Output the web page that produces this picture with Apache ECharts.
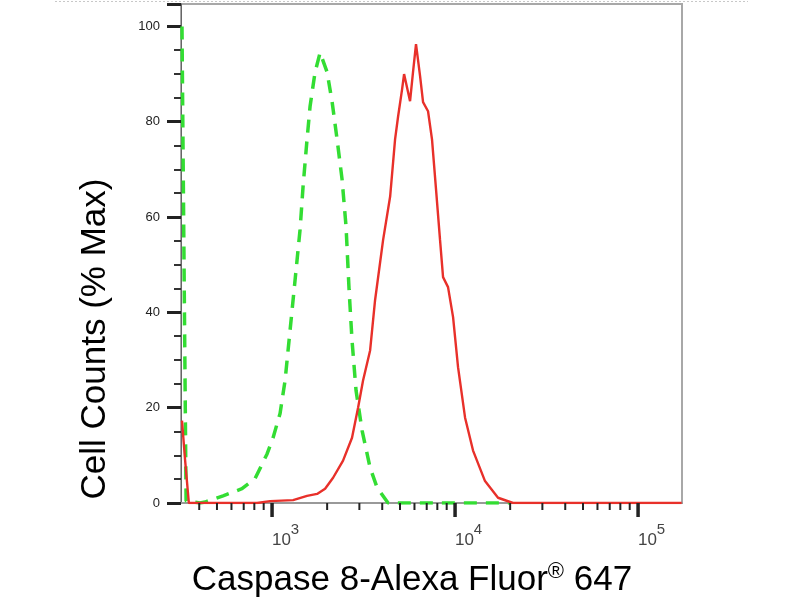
<!DOCTYPE html>
<html>
<head>
<meta charset="utf-8">
<script src="https://cdn.jsdelivr.net/npm/echarts@6/dist/echarts.min.js"></script>
<style>html,body{margin:0;padding:0;background:#fff}#c{width:800px;height:600px}</style>
</head>
<body>
<div id="c"></div>
<script>
// ---- data (fluorescence intensity, % of max) ----
var redX = [322, 335, 351, 404, 589, 828, 975, 1303, 1553, 1762, 1949, 2155, 2443, 2735, 2951, 3142, 3434, 3656, 4044, 4418, 4701, 4883, 5134, 5265, 5676, 5892, 6118, 6437, 6685, 7118, 7482, 7870, 8277, 8598, 9154, 9753, 10382, 11342, 12540, 14576, 17172, 20738, 60000, 173000];
var redY = [17.3, 8.9, 0, 0, 0, 0, 0.4, 0.6, 1.5, 1.9, 3.0, 5.3, 8.9, 13.7, 20.0, 25.7, 32.0, 42.6, 55.2, 64.3, 76.3, 81.1, 86.8, 90.0, 84.3, 90.4, 96.3, 89.6, 84.1, 82.2, 76.3, 65.8, 55.2, 47.4, 45.3, 39.0, 28.5, 17.9, 11.0, 4.6, 1.1, 0, 0, 0];
var greenX = [322, 339, 404, 430, 540, 685, 807, 939, 1013, 1106, 1178, 1254, 1336, 1422, 1477, 1553, 1613, 1718, 1830, 1875, 1999, 2130, 2266, 2413, 2537, 2636, 2735, 2877, 3105, 3434, 3751, 4305, 20000];
var greenY = [100, 0.4, 0, 0.2, 1.5, 3.0, 5.1, 10.3, 13.7, 18.8, 25.7, 36.2, 46.8, 57.3, 66.4, 76.3, 83.2, 90.4, 94.5, 94.5, 90.4, 84.1, 76.3, 67.9, 58.0, 44.7, 34.1, 23.6, 15.2, 7.4, 3.2, 0, 0];
var majorTicks = [1000, 10000, 100000];
var minorTicks = [400, 500, 600, 700, 800, 900, 2000, 3000, 4000, 5000, 6000, 7000, 8000, 9000, 20000, 30000, 40000, 50000, 60000, 70000, 80000, 90000];
var yTicks = [0, 20, 40, 60, 80, 100];
var yTitle = 'Cell Counts (% Max)';
var xTitleMain = 'Caspase 8-Alexa Fluor';
var xTitleSup = '\u00AE';
var xTitleEnd = ' 647';

function zip(a, b) { return a.map(function (v, i) { return [v, b[i]]; }); }
var tickData = majorTicks.map(function (v) { return [v, 1]; })
  .concat(minorTicks.map(function (v) { return [v, 0]; }));

var FONT = 'Liberation Sans, Arial, Helvetica, sans-serif';
var chart = echarts.init(document.getElementById('c'));
chart.setOption({
  animation: false,
  backgroundColor: '#fff',
  grid: { left: 181, right: 118, top: 4, bottom: 97, show: true, borderColor: '#a8a8a8', borderWidth: 2, backgroundColor: 'transparent' },
  xAxis: {
    type: 'log', logBase: 10, min: 318, max: 173800,
    axisLine: { show: true, lineStyle: { color: '#999', width: 2 } },
    axisTick: { show: false },
    splitLine: { show: false },
    axisLabel: {
      showMinLabel: false, showMaxLabel: false,
      margin: 27,
      padding: [0, 0, 0, 27],
      formatter: function (v) {
        var e = Math.round(Math.log10(v));
        if (Math.abs(Math.log10(v) - e) > 1e-6) return '';
        return '{b|10}{s|' + e + '}';
      },
      rich: {
        b: { fontSize: 17, fontFamily: FONT, color: '#444', lineHeight: 20 },
        s: { fontSize: 15, fontFamily: FONT, color: '#444', lineHeight: 15, padding: [0, 0, 20, 0] }
      }
    }
  },
  yAxis: {
    type: 'value', min: 0, max: 104.7, interval: 20,
    axisLine: { show: true, lineStyle: { color: '#666', width: 1 } },
    axisTick: { show: true, length: 14, lineStyle: { color: '#222', width: 3 } },
    minorTick: { show: true, splitNumber: 4, length: 7, lineStyle: { color: '#333', width: 2 } },
    splitLine: { show: false },
    axisLabel: {
      showMaxLabel: false, margin: 21, fontSize: 13, fontFamily: FONT, color: '#222',
      formatter: function (v) { return yTicks.indexOf(v) >= 0 ? String(v) : ''; }
    }
  },
  series: [
    {
      type: 'line', data: zip(greenX, greenY), showSymbol: false, z: 3,
      lineStyle: { color: '#33dd33', width: 3.5, type: [13, 9] }
    },
    {
      type: 'line', data: zip(redX, redY), showSymbol: false, z: 4,
      lineStyle: { color: '#e8302a', width: 2.4 }
    },
    {
      type: 'custom', data: tickData, clip: false, silent: true, z: 10,
      renderItem: function (params, api) {
        var p = api.coord([api.value(0), 0]);
        var major = api.value(1) === 1;
        return {
          type: 'line',
          shape: { x1: p[0], y1: p[1], x2: p[0], y2: p[1] + (major ? 14 : 7) },
          style: { stroke: '#222', lineWidth: major ? 3.5 : 2 }
        };
      }
    }
  ],
  graphic: [
    { type: 'line', shape: { x1: 55, y1: 1.5, x2: 748, y2: 1.5 }, style: { stroke: '#c8c8c8', lineWidth: 1, lineDash: [2, 2] } },
    {
      type: 'text', x: 95, y: 339, rotation: Math.PI / 2,
      style: { text: yTitle, fontSize: 35, fontFamily: FONT, fill: '#000', align: 'center', verticalAlign: 'middle' }
    },
    {
      type: 'text', x: 412, y: 580,
      style: {
        text: '{a|' + xTitleMain + '}{r|' + xTitleSup + '}{a|' + xTitleEnd + '}',
        align: 'center', verticalAlign: 'middle',
        rich: {
          a: { fontSize: 35, fontFamily: FONT, fill: '#000', lineHeight: 40 },
          r: { fontSize: 22, fontFamily: FONT, fill: '#000', lineHeight: 22, padding: [0, 0, 16, 0] }
        }
      }
    }
  ]
});
</script>
</body>
</html>
